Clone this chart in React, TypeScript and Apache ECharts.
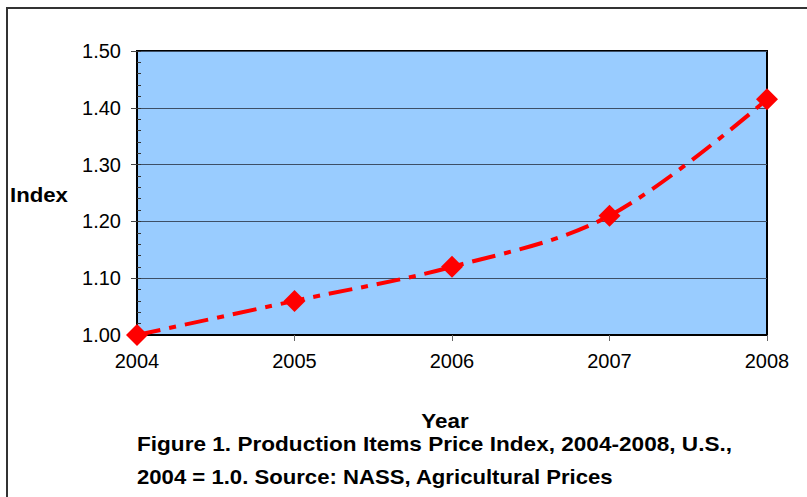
import React, { useEffect, useRef } from "react";
import * as echarts from "echarts";

const years = ["2004", "2005", "2006", "2007", "2008"];
const indexValues = [1.0, 1.06, 1.12, 1.21, 1.415];
const yTicks = { min: 1.0, max: 1.5, interval: 0.1 };
const yAxisName = "Index";
const xAxisName = "Year";
const captionLines = [
  "Figure 1. Production Items Price Index, 2004-2008, U.S.,",
  "2004 = 1.0. Source: NASS, Agricultural Prices",
];

export default function App() {
  const ref = useRef<HTMLDivElement>(null);
  useEffect(() => {
    if (!ref.current) return;
    const chart = echarts.init(ref.current, null, { renderer: "svg" });
    const font = "'Liberation Sans', Arial, sans-serif";
    chart.setOption({
      animation: false,
      backgroundColor: "#ffffff",
      grid: {
        left: 137,
        right: 40,
        top: 51,
        bottom: 162,
        show: true,
        backgroundColor: "#99CCFF",
        borderColor: "#000000",
        borderWidth: 2,
      },
      xAxis: {
        type: "category",
        data: years,
        boundaryGap: false,
        axisLine: { show: true, lineStyle: { color: "#000", width: 2 } },
        axisTick: { show: true, length: 6, lineStyle: { color: "#666", width: 1 } },
        axisLabel: { color: "#000", fontSize: 20, fontFamily: font, margin: 16 },
        splitLine: { show: false },
      },
      yAxis: [
        {
          type: "value",
          min: yTicks.min,
          max: yTicks.max,
          interval: yTicks.interval,
          axisLine: { show: true, lineStyle: { color: "#000", width: 2 } },
          axisTick: { show: true, length: 6, lineStyle: { color: "#444", width: 1 } },
          axisLabel: {
            color: "#000",
            fontSize: 20,
            fontFamily: font,
            margin: 16,
            formatter: (v: number) => v.toFixed(2),
          },
          splitLine: { show: true, lineStyle: { color: "#3d4f66", width: 1 } },
        },
        {
          type: "value",
          position: "left",
          min: yTicks.min,
          max: yTicks.max,
          interval: yTicks.interval / 5,
          axisLine: { show: false },
          axisTick: { show: true, inside: true, length: 4, lineStyle: { color: "#333", width: 1 } },
          axisLabel: { show: false },
          splitLine: { show: false },
        },
      ],
      series: [
        {
          type: "line",
          data: indexValues,
          yAxisIndex: 0,
          smooth: 0.35,
          symbol: "diamond",
          symbolSize: 22,
          itemStyle: { color: "#FF0000" },
          lineStyle: { color: "#FF0000", width: 4, type: [24, 9, 7, 9] },
          z: 5,
        },
      ],
      graphic: [
        {
          type: "polyline",
          shape: { points: [[7, 497], [7, 8], [807, 8]] },
          style: { stroke: "#333", lineWidth: 2, fill: null },
        },
        {
          type: "text",
          x: 10,
          y: 195,
          scaleX: 1.11,
          style: {
            text: yAxisName,
            font: `bold 20px ${font}`,
            fill: "#000",
            verticalAlign: "middle",
          },
        },
        {
          type: "text",
          x: 445,
          y: 421,
          scaleX: 1.12,
          style: {
            text: xAxisName,
            font: `bold 20px ${font}`,
            fill: "#000",
            align: "center",
            verticalAlign: "middle",
          },
        },
        {
          type: "text",
          x: 137,
          y: 444,
          scaleX: 1.13,
          style: {
            text: captionLines[0],
            font: `bold 20px ${font}`,
            fill: "#000",
            verticalAlign: "middle",
          },
        },
        {
          type: "text",
          x: 137,
          y: 477,
          scaleX: 1.107,
          style: {
            text: captionLines[1],
            font: `bold 20px ${font}`,
            fill: "#000",
            verticalAlign: "middle",
          },
        },
      ],
    });
    return () => chart.dispose();
  }, []);
  return (
    <div
      ref={ref}
      style={{ position: "absolute", left: 0, top: 0, width: 807, height: 497 }}
    />
  );
}
